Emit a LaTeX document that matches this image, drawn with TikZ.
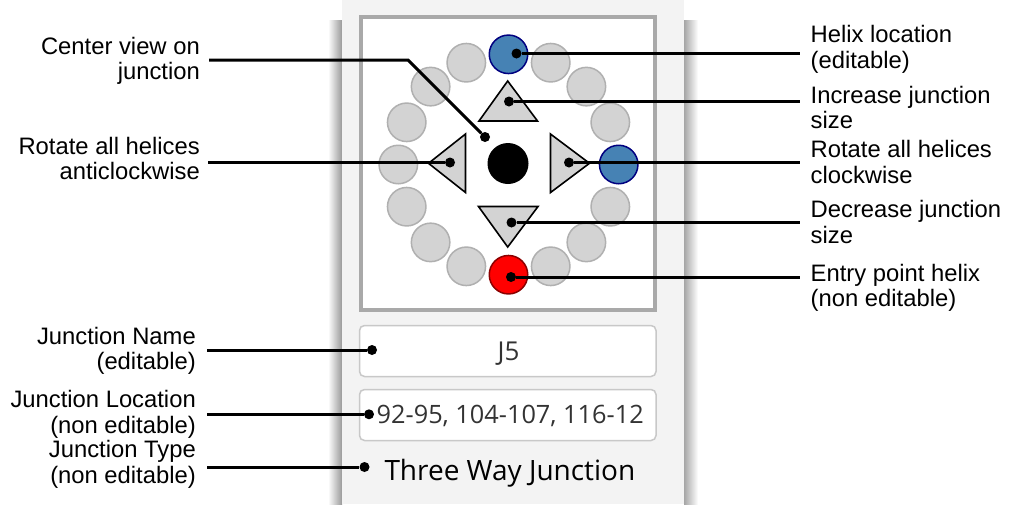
\documentclass[tikz,border=0pt]{standalone}
\usepackage{fontspec}
\setmainfont{Liberation Sans}
\newfontfamily\uifont{Open Sans}
\definecolor{panelgray}{HTML}{F3F3F3}
\definecolor{framegray}{HTML}{A9A9A9}
\definecolor{helixgray}{HTML}{D3D3D3}
\definecolor{helixedge}{HTML}{B0B0B0}
\definecolor{helixblue}{HTML}{4682B4}
\definecolor{helixnavy}{HTML}{000080}
\definecolor{entryred}{HTML}{FF0000}
\definecolor{entrydark}{HTML}{8B0000}
\definecolor{fieldedge}{HTML}{C8C8C8}
\definecolor{fieldtext}{HTML}{333333}
\tikzset{
  helix/.style={circle, minimum size=38.5pt, inner sep=0pt, line width=1.5pt, draw=helixedge, fill=helixgray},
  helixloc/.style={helix, draw=helixnavy, fill=helixblue},
  entryhelix/.style={helix, draw=entrydark, fill=entryred},
  sizebtn/.style={draw, line width=1.6pt, line join=miter, fill=helixgray},
  pin/.style={circle, fill, inner sep=0pt, minimum size=10pt},
  lead/.style={line width=3pt},
  lbl/.style={font=\fontsize{23.8}{25.6}\selectfont, inner sep=0pt},
  field/.style={draw=fieldedge, line width=1.5pt, fill=white, rounded corners=5pt},
}
\begin{document}
\begin{tikzpicture}[x=1pt,y=-1pt]
\useasboundingbox (0,0) rectangle (1026,504);
% panel
\shade[left color=white, right color=black!40] (328,20) rectangle (342,504);
\shade[left color=black!35, right color=white] (684,20) rectangle (698,504);
\fill[panelgray] (342,0) rectangle (684,504);
\draw[framegray, line width=4pt, fill=white] (360.5,17) rectangle (655,310);
% helices
\node[helix] (h1) at (610.3,122.3){};
\node[helix] (h2) at (586.4,86.6){};
\node[helix] (h3) at (550.7,62.7){};
\node[helix] (h5) at (466.3,62.7){};
\node[helix] (h6) at (430.6,86.6){};
\node[helix] (h7) at (406.7,122.3){};
\node[helix] (h8) at (398.3,164.5){};
\node[helix] (h9) at (406.7,206.7){};
\node[helix] (h10) at (430.6,242.4){};
\node[helix] (h11) at (466.3,266.3){};
\node[helix] (h13) at (550.7,266.3){};
\node[helix] (h14) at (586.4,242.4){};
\node[helix] (h15) at (610.3,206.7){};
\node[helixloc] (h0) at (618.7,164.5){};
\node[helixloc] (h4) at (508.5,54.3){};
\node[entryhelix] (h12) at (508.5,274.7){};
% buttons
\node[circle, fill, inner sep=0pt, minimum size=41pt] (hub) at (508,163.5){};
\draw[sizebtn] (507.7,81) -- (479,121) -- (537.5,121) -- cycle;
\draw[sizebtn] (478.5,206.5) -- (538,206.5) -- (507.7,247) -- cycle;
\draw[sizebtn] (428.5,163.3) -- (465.5,134) -- (465.5,192.5) -- cycle;
\draw[sizebtn] (589.5,163.3) -- (550.5,134) -- (550.5,192.5) -- cycle;
% fields
\draw[field] (359.5,325.5) rectangle (656,376.5);
\draw[field] (359.5,389.5) rectangle (656,440.5);
\node[anchor=base, inner sep=0pt, text=fieldtext, font=\uifont\fontsize{26}{30}\selectfont] (jname) at (508.5,360){J5};
\node[anchor=base west, inner sep=0pt, text=fieldtext, font=\uifont\fontsize{25.3}{30}\selectfont] (jloc) at (376.5,423.3){92-95, 104-107, 116-12};
\node[anchor=base west, inner sep=0pt, font=\uifont\fontsize{28}{32}\selectfont] (jtype) at (384.3,480){Three Way Junction};
% pins
\node[pin] (pHelix) at (516.5,53.5){};
\node[pin] (pGrow) at (509,101.5){};
\node[pin] (pCenter) at (485,137){};
\node[pin] (pLeft) at (450,162.5){};
\node[pin] (pRight) at (569,162.5){};
\node[pin] (pShrink) at (511.5,222.5){};
\node[pin] (pEntry) at (511,277){};
\node[pin] (pName) at (372,350){};
\node[pin] (pLoc) at (369,414.3){};
\node[pin] (pType) at (364.5,467){};
% lead ends
\coordinate (eHelix) at (800,53.5);
\coordinate (eGrow) at (800,101.5);
\coordinate (eRight) at (800,162.5);
\coordinate (eShrink) at (800,222.5);
\coordinate (eEntry) at (800,277);
\coordinate (eCenter) at (209,60);
\coordinate (bCenter) at (408,60);
\coordinate (eLeft) at (208,162.5);
\coordinate (eName) at (207,350);
\coordinate (eLoc) at (207,414.3);
\coordinate (eType) at (207,467);
\draw[lead] (pHelix) -- (eHelix);
\draw[lead] (pGrow) -- (eGrow);
\draw[lead] (pRight) -- (eRight);
\draw[lead] (pShrink) -- (eShrink);
\draw[lead] (pEntry) -- (eEntry);
\draw[lead] (pCenter) -- (bCenter) -- (eCenter);
\draw[lead] (pLeft) -- (eLeft);
\draw[lead] (pName) -- (eName);
\draw[lead] (pLoc) -- (eLoc);
\draw[lead] (pType) -- (eType);
% labels (base = last line)
\node[lbl, anchor=base west, align=left] (lHelix) at (810.5,68.3){Helix location\\(editable)};
\node[lbl, anchor=base west, align=left] (lGrow) at (810.5,128.9){Increase junction\\size};
\node[lbl, anchor=base west, align=left] (lRight) at (810.5,183.3){Rotate all helices\\clockwise};
\node[lbl, anchor=base west, align=left] (lShrink) at (810.5,243.3){Decrease junction\\size};
\node[lbl, anchor=base west, align=left] (lEntry) at (810.5,306.6){Entry point helix\\(non editable)};
\node[lbl, anchor=base east, align=right] (lCenter) at (200,79.9){Center view on\\junction};
\node[lbl, anchor=base east, align=right] (lLeft) at (200,179.9){Rotate all helices\\anticlockwise};
\node[lbl, anchor=base east, align=right] (lName) at (196,369.9){Junction Name\\(editable)};
\node[lbl, anchor=base east, align=right] (lLoc) at (196,433.3){Junction Location\\(non editable)};
\node[lbl, anchor=base east, align=right] (lType) at (196,483.3){Junction Type\\(non editable)};
\end{tikzpicture}
\end{document}
